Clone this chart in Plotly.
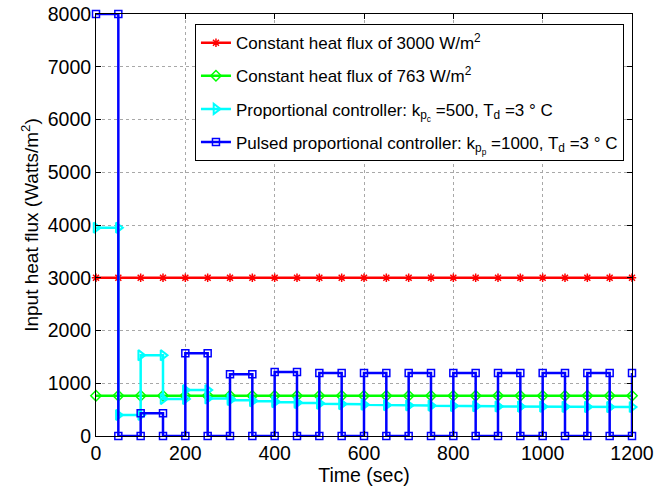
import plotly.graph_objects as go

# Time grid (s): controller update instants every 50 s
t_grid = [0, 50, 100, 150, 200, 250, 300, 350, 400, 450, 500, 550, 600,
          650, 700, 750, 800, 850, 900, 950, 1000, 1050, 1100, 1150, 1200]

# Constant heat flux references (W/m^2)
flux_const_high = 3000
flux_const_low = 763

# Proportional controller output held over each 50 s interval (W/m^2)
prop_levels = [3950, 400, 1530, 700, 870, 710, 680, 660, 640, 625, 610, 600,
               590, 585, 580, 575, 570, 565, 560, 560, 555, 555, 550, 550]

# Pulsed proportional controller output held over each 50 s interval (W/m^2)
pulsed_levels = [8000, 0, 430, 0, 1570, 0, 1170, 0, 1215, 0, 1195, 0,
                 1195, 0, 1195, 0, 1195, 0, 1195, 0, 1195, 0, 1195, 0]
pulsed_final = 1195

x_ticks = [0, 200, 400, 600, 800, 1000, 1200]
y_ticks = [0, 1000, 2000, 3000, 4000, 5000, 6000, 7000, 8000]


def staircase(times, levels):
    xs, ys = [], []
    for i, v in enumerate(levels):
        xs += [times[i], times[i + 1]]
        ys += [v, v]
    return xs, ys


prop_x, prop_y = staircase(t_grid, prop_levels)
pulse_x, pulse_y = staircase(t_grid, pulsed_levels)
pulse_x.append(t_grid[-1])
pulse_y.append(pulsed_final)

FONT = "Liberation Sans, Arial, sans-serif"
fig = go.Figure()

fig.add_trace(go.Scatter(
    x=t_grid, y=[flux_const_high] * len(t_grid), mode="lines+markers",
    name="Constant heat flux of 3000 W/m<sup>2</sup>", legendgroup="a",
    line=dict(color="#ff0000", width=2.5),
    marker=dict(symbol="asterisk-open", size=7, color="#ff0000",
                line=dict(color="#ff0000", width=1.5)),
    cliponaxis=False))

fig.add_trace(go.Scatter(
    x=t_grid, y=[flux_const_low] * len(t_grid), mode="lines+markers",
    name="Constant heat flux of 763 W/m<sup>2</sup>", legendgroup="b",
    line=dict(color="#00ff00", width=2.5),
    marker=dict(symbol="diamond-open", size=8, color="#00ff00",
                line=dict(color="#00ff00", width=1.5)),
    cliponaxis=False))

fig.add_trace(go.Scatter(
    x=prop_x, y=prop_y, mode="lines+markers",
    name="Proportional controller: k<sub>p<sub>c</sub></sub> =500, T<sub>d</sub> =3 ° C",
    legendgroup="c",
    line=dict(color="#00ffff", width=2.5),
    marker=dict(symbol="triangle-right-open", size=9, color="#00ffff",
                line=dict(color="#00ffff", width=2)),
    cliponaxis=False))

fig.add_trace(go.Scatter(
    x=pulse_x, y=pulse_y, mode="lines+markers",
    name="Pulsed proportional controller: k<sub>p<sub>p</sub></sub> =1000, T<sub>d</sub> =3 ° C",
    legendgroup="d",
    line=dict(color="#0000ff", width=2.5),
    marker=dict(symbol="square-open", size=7, color="#0000ff",
                line=dict(color="#0000ff", width=1.5)),
    cliponaxis=False))

axis_common = dict(
    showline=True, linecolor="black", linewidth=1, mirror="allticks",
    ticks="inside", ticklen=5, tickcolor="black", automargin=False,
    showgrid=True, gridcolor="#a8a8a8", griddash="dot", gridwidth=1,
    zeroline=False, tickfont=dict(family=FONT, size=19.5, color="black"),
)

fig.update_xaxes(range=[0, 1200], tickvals=x_ticks,
                 title=dict(text="Time (sec)", font=dict(family=FONT, size=19.5, color="black"),
                            standoff=0),
                 **axis_common)
fig.update_yaxes(range=[0, 8000], tickvals=y_ticks,
                 title=dict(text="Input heat flux (Watts/m<sup>2</sup>)",
                            font=dict(family=FONT, size=19, color="black"), standoff=4),
                 **axis_common)

fig.update_layout(
    width=657, height=488,
    margin=dict(l=96, r=25, t=14, b=52),
    paper_bgcolor="white", plot_bgcolor="white",
    font=dict(family=FONT, color="black"),
    legend=dict(x=0.985, y=0.976, xanchor="right", yanchor="top",
                bgcolor="white", bordercolor="black", borderwidth=1,
                font=dict(family=FONT, size=17, color="black"),
                itemwidth=30, tracegroupgap=8),
    showlegend=True,
)

fig.write_html("out.html")
